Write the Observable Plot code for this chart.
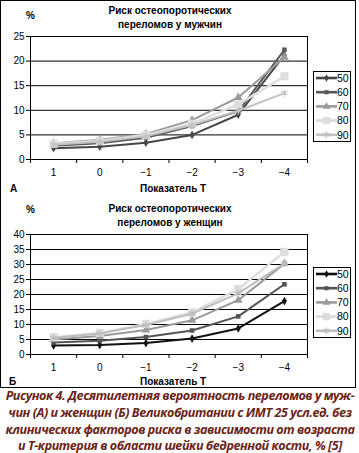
<!DOCTYPE html>
<html><head><meta charset="utf-8">
<script src="https://cdn.jsdelivr.net/npm/d3@7"></script>
<script src="https://cdn.jsdelivr.net/npm/@observablehq/plot@0.6"></script>
<style>
body{margin:0;background:#fff;}
#wrap{position:relative;width:359px;height:453px;font-family:"Liberation Sans",Arial,sans-serif;color:#000;overflow:hidden;}
.abs{position:absolute;white-space:nowrap;}
.title{font-weight:bold;font-size:10px;text-align:center;line-height:13.5px;width:200px;}
.small{font-weight:bold;font-size:10px;line-height:11px;}
svg{overflow:visible;}
</style></head>
<body><div id="wrap"></div>
<script>
// ---- data ----
const tLabels = ["1","0","\u22121","\u22122","\u22123","\u22124"];
const ages = ["50","60","70","80","90"];
const men50 = [2.3,2.6,3.4,5.0,9.1,21.2];
const men60 = [2.8,3.3,4.4,6.8,9.8,22.3];
const men70 = [3.3,4.0,5.2,8.0,12.6,20.8];
const men80 = [3.2,3.8,5.0,7.3,11.2,16.9];
const men90 = [3.0,3.6,4.7,7.0,9.9,13.5];
const women50 = [3.0,3.2,3.8,5.3,8.7,17.8];
const women60 = [4.0,4.6,5.8,8.0,12.7,23.4];
const women70 = [5.0,6.2,8.2,11.4,18.1,30.3];
const women80 = [5.8,7.2,10.2,14.0,21.8,34.2];
const women90 = [5.5,7.0,9.8,13.6,20.4,30.4];
const captionLines = [
 "Рисунок 4. Десятилетняя вероятность переломов у муж-",
 "чин (А) и женщин (Б) Великобритании с ИМТ 25 усл.ед. без",
 "клинических факторов риска в зависимости от возраста",
 "и Т-критерия в области шейки бедренной кости, % [5]"
];

const wrap = document.getElementById("wrap");
function addDiv(cls, html, style){
  const d = document.createElement("div");
  d.className = "abs " + cls; d.innerHTML = html;
  Object.assign(d.style, style); wrap.appendChild(d); return d;
}

// outer frame
addDiv("", "", {left:"0px", top:"0px", width:"356px", height:"388px", border:"1px solid #000", boxSizing:"border-box"});

const styleSpec = [
  {symbol:"diamond", r:2.6, sw:2},
  {symbol:"square", r:2.6, sw:2},
  {symbol:"triangle", r:3.2, sw:2},
  {symbol:"square", r:4.6, sw:2.4},
  {symbol:"asterisk", r:3.4, sw:2}
];

function panel(seriesArr, colors, ymax, topPx, plotTop, plotBottom, legendTop){
  const height = 200;
  const rows = [];
  seriesArr.forEach((s, k) => s.forEach((v, i) => rows.push({age: ages[k], i, v})));
  const marks = [
    Plot.gridY(d3.range(5, ymax + 1, 5), {stroke:"#000", strokeOpacity:1, strokeWidth:1}),
    Plot.ruleX([0, 6], {stroke:"#000", strokeWidth:1}),
    Plot.ruleY([0], {stroke:"#000", strokeWidth:1}),
    Plot.axisY({ticks: d3.range(0, ymax + 1, 5), tickSize:4, tickPadding:2, fontSize:10, label:null}),
    Plot.axisX({ticks: d3.range(0, 7), tickSize:4, tickFormat:() => "", label:null}),
    Plot.axisX({ticks: d3.range(6).map(i => i + 0.5), tickSize:0, tickPadding:9, fontSize:10,
      tickFormat: d => tLabels[Math.round(d - 0.5)], label:null})
  ];
  ages.forEach((a, k) => {
    const data = rows.filter(r => r.age === a);
    const sp = styleSpec[k];
    marks.push(Plot.line(data, {x: d => d.i + 0.5, y: "v", stroke: colors[k], strokeWidth: sp.sw}));
    if (sp.symbol === "asterisk")
      marks.push(Plot.dot(data, {x: d => d.i + 0.5, y: "v", symbol: sp.symbol, r: sp.r, stroke: colors[k], strokeWidth: 1.3}));
    else
      marks.push(Plot.dot(data, {x: d => d.i + 0.5, y: "v", symbol: sp.symbol, r: sp.r, fill: colors[k], stroke: "none"}));
  });
  const chart = Plot.plot({
    width: 359, height,
    marginLeft: 30, marginRight: 52, marginTop: plotTop, marginBottom: height - plotBottom,
    x: {type: "linear", domain: [0, 6]},
    y: {domain: [0, ymax]},
    style: {fontFamily: '"Liberation Sans", Arial, sans-serif', fontSize: "10px", background: "transparent", color: "#000"},
    marks
  });
  chart.style.position = "absolute";
  chart.style.left = "0px";
  chart.style.top = topPx + "px";
  wrap.appendChild(chart);

  // legend
  const lg = d3.create("svg").attr("width", 40).attr("height", 72)
    .style("position", "absolute").style("left", "313px").style("top", legendTop + "px");
  lg.append("rect").attr("x", 0.5).attr("y", 0.5).attr("width", 37).attr("height", 70)
    .attr("fill", "#fff").attr("stroke", "#000");
  ages.forEach((a, k) => {
    const y = 7 + k * 14.2;
    const sp = styleSpec[k];
    lg.append("line").attr("x1", 3).attr("x2", 24).attr("y1", y).attr("y2", y)
      .attr("stroke", colors[k]).attr("stroke-width", sp.sw + 0.6);
    const sym = d3.symbol().type({diamond: d3.symbolDiamond, square: d3.symbolSquare, triangle: d3.symbolTriangle, asterisk: d3.symbolAsterisk}[sp.symbol])
      .size(Math.PI * sp.r * sp.r * 0.8);
    const p = lg.append("path").attr("d", sym()).attr("transform", `translate(13.5,${y})`);
    if (sp.symbol === "asterisk") p.attr("fill", "none").attr("stroke", colors[k]).attr("stroke-width", 1.3);
    else p.attr("fill", colors[k]);
    lg.append("text").attr("x", 24).attr("y", y).attr("dy", "0.36em")
      .attr("font-size", 10.5).attr("font-family", '"Liberation Sans", Arial, sans-serif').text(a);
  });
  wrap.appendChild(lg.node());
}

// top panel (men)
addDiv("title", "Риск остеопоротических<br>переломов у мужчин", {left: "70px", top: "4px"});
addDiv("small", "%", {left: "26px", top: "10px"});
panel([men50, men60, men70, men80, men90], ["#474747", "#585858", "#9a9a9a", "#dedede", "#c2c2c2"], 25, 0, 36, 159, 71);
addDiv("small", "А", {left: "10px", top: "183px"});
addDiv("small", "Показатель Т", {left: "140px", top: "183px"});

// bottom panel (women)
addDiv("title", "Риск остеопоротических<br>переломов у женщин", {left: "70px", top: "202px"});
addDiv("small", "%", {left: "26px", top: "204px"});
panel([women50, women60, women70, women80, women90], ["#111111", "#555555", "#999999", "#dddddd", "#bdbdbd"], 40, 200, 34, 154, 267);
addDiv("small", "Б", {left: "9px", top: "376px"});
addDiv("small", "Показатель Т", {left: "140px", top: "376px"});

// caption: one font size, fitted so the first line spans the width it has in the reference
const cap = d3.create("svg").attr("width", 359).attr("height", 64)
  .style("position", "absolute").style("left", "0px").style("top", "389px");
wrap.appendChild(cap.node());
const capY = [11, 28, 45, 61];
const texts = captionLines.map((t, i) => cap.append("text").attr("x", 180).attr("y", capY[i])
    .attr("text-anchor", "middle")
    .attr("font-family", '"Open Sans", "Noto Sans", sans-serif').attr("font-size", 13)
    .attr("font-weight", "bold").attr("font-style", "italic").attr("fill", "#6b2418")
    .attr("letter-spacing", "-0.45px").text(t));
const w0 = d3.max(texts, tx => tx.node().getComputedTextLength());
const fs = Math.min(13.5, 13 * 350 / w0);
texts.forEach(tx => tx.attr("font-size", fs.toFixed(2)));
</script>
</body></html>
